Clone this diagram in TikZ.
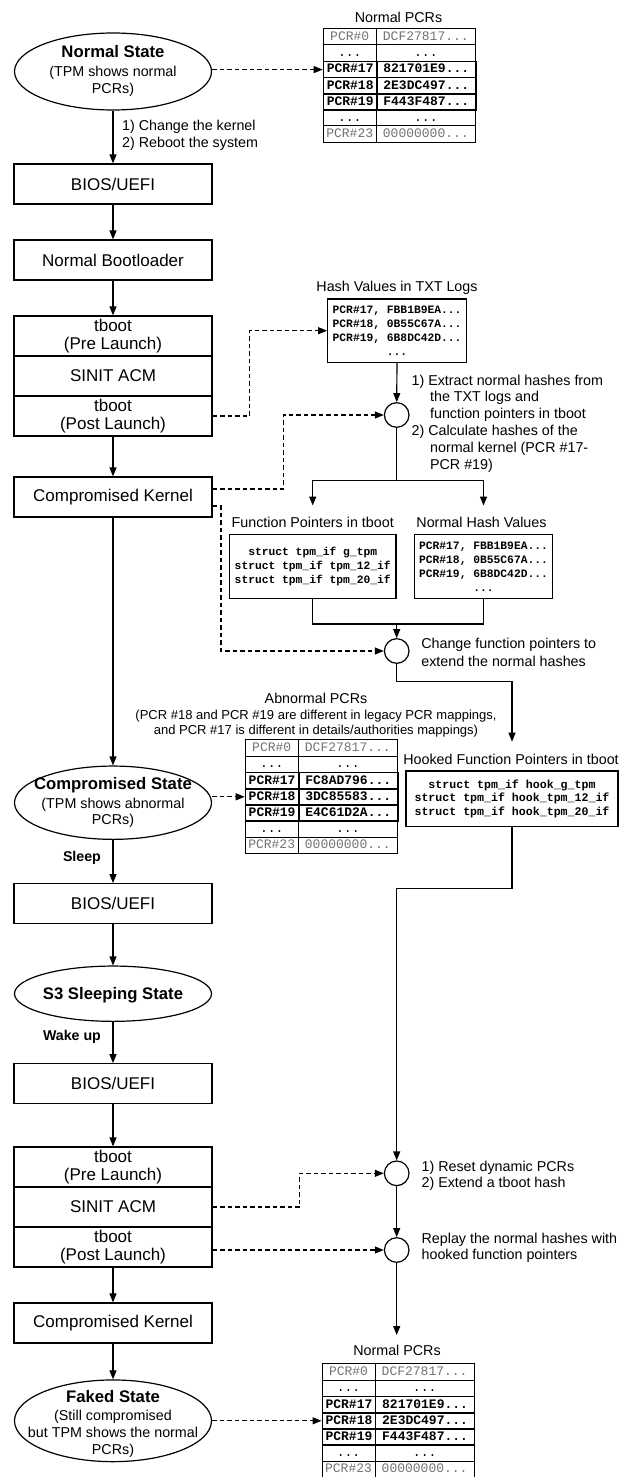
\documentclass[tikz,border=0pt]{standalone}
\usepackage{fontspec}
\setmainfont{Liberation Sans}
\setmonofont{Liberation Mono}
\usetikzlibrary{arrows.meta,shapes.geometric}
\definecolor{pcrgray}{gray}{0.45}

\tikzset{
  box/.style={draw, rectangle, minimum width=198pt, minimum height=40pt, inner sep=0pt,
    align=center, font=\fontsize{17}{18.8}\selectfont},
  oval/.style={draw, ellipse, minimum width=197pt, inner sep=0pt},
  ovaltext/.style={align=center, inner sep=0pt, font=\fontsize{14.3}{16.8}\selectfont},
  head/.style={inner sep=0pt, text height=10.3pt, text depth=0pt, font=\fontsize{14.3}{16.8}\selectfont},
  note/.style={anchor=west, align=left, inner sep=0pt, font=\fontsize{14.3}{16.9}\selectfont},
  edgelbl/.style={anchor=east, inner sep=0pt, text height=10.2pt, text depth=0pt,
    font=\fontsize{14.2}{16}\selectfont\bfseries},
  code/.style={draw, rectangle, inner sep=0pt, align=center, font=\ttfamily\bfseries\fontsize{11.3}{14}\selectfont},
  junc/.style={draw, circle, minimum size=24.6pt, inner sep=0pt},
  flow/.style={-{Triangle[length=9pt,width=7pt]}},
  dflow/.style={flow, dash pattern=on 4.5pt off 3pt},
  cell/.style={draw, rectangle, anchor=north west, inner sep=0pt, minimum height=16.2pt,
    text height=9.4pt, text depth=2.6pt, font=\ttfamily\fontsize{13}{13}\selectfont, line width=0.7pt},
  lcell/.style={cell, minimum width=53.3pt},
  rcell/.style={cell, minimum width=99pt},
  dim/.style={text=pcrgray},
  hot/.style={font=\ttfamily\bfseries\fontsize{13}{13}\selectfont, line width=1.6pt},
}

% bold first line of a state ellipse
\newcommand\statetitle[1]{{\fontsize{16.7}{20}\selectfont\bfseries #1}}

% seven-row PCR table; #1 name prefix, #2-#4 values of PCR#17..#19
\newcommand\pcrtable[4]{%
  \node[lcell,dim] (#1l0) at (0,0) {PCR\#0};
  \node[rcell,dim] (#1r0) at (53.3,0) {DCF27817...};
  \node[lcell] (#1l1) at (0,16.2) {...};
  \node[rcell] (#1r1) at (53.3,16.2) {...};
  \node[lcell] (#1l5) at (0,81) {...};
  \node[rcell] (#1r5) at (53.3,81) {...};
  \node[lcell,dim] (#1l6) at (0,97.2) {PCR\#23};
  \node[rcell,dim] (#1r6) at (53.3,97.2) {00000000...};
  \node[lcell,hot] (#1l2) at (0,32.4) {PCR\#17};
  \node[rcell,hot] (#1r2) at (53.3,32.4) {#2};
  \node[lcell,hot] (#1l3) at (0,48.6) {PCR\#18};
  \node[rcell,hot] (#1r3) at (53.3,48.6) {#3};
  \node[lcell,hot] (#1l4) at (0,64.8) {PCR\#19};
  \node[rcell,hot] (#1r4) at (53.3,64.8) {#4};
}

\begin{document}
\begin{tikzpicture}[x=1pt, y=-1pt, line width=1.2pt]
\fill[white] (0,0) rectangle (629,1477);
\useasboundingbox (0,0) rectangle (629,1477);

% ---------------- left column: boot sequence ----------------
\node[oval, minimum height=77pt] (ns) at (113,71.5) {};
\node[ovaltext] (nstx) at (113,71) {\statetitle{Normal State}\\[1.7pt](TPM shows normal\\PCRs)};
\node[box] (bios1) at (113,184) {BIOS/UEFI};
\node[box] (boot) at (113,260) {Normal Bootloader};
\node[box] (pre1) at (113,336) {tboot\\(Pre Launch)};
\node[box] (sin1) at (113,376) {SINIT ACM};
\node[box] (post1) at (113,416) {tboot\\(Post Launch)};
\node[box] (ck1) at (113,497) {Compromised Kernel};
\node[oval, minimum height=73.3pt] (cs) at (113,802.7) {};
\node[ovaltext] (cstx) at (113,802.6) {\statetitle{Compromised State}\\[1.7pt](TPM shows abnormal\\PCRs)};
\node[box] (bios2) at (113,903.7) {BIOS/UEFI};
\node[oval, minimum height=55.3pt] (s3) at (113,993.7) {};
\node[ovaltext] (s3tx) at (113,995.5) {\statetitle{S3 Sleeping State}};
\node[box] (bios3) at (113,1083.7) {BIOS/UEFI};
\node[box] (pre2) at (113,1167) {tboot\\(Pre Launch)};
\node[box] (sin2) at (113,1207) {SINIT ACM};
\node[box] (post2) at (113,1247) {tboot\\(Post Launch)};
\node[box] (ck2) at (113,1323) {Compromised Kernel};
\node[oval, minimum height=81.7pt] (fs) at (113,1420.8) {};
\node[ovaltext] (fstx) at (113,1423.5) {\statetitle{Faked State}\\[1.7pt](Still compromised\\but TPM shows the normal\\PCRs)};

\node[note, font=\fontsize{14.3}{17}\selectfont] (lbl1) at (121.5,135.7) {1) Change the kernel\\2) Reboot the system};
\node[edgelbl] (sleep) at (101.5,856.7) {Sleep};
\node[edgelbl] (wake) at (101.5,1035.7) {Wake up};

\draw[flow] (ns) -- (bios1);
\draw[flow] (bios1) -- (boot);
\draw[flow] (boot) -- (pre1);
\draw[flow] (post1) -- (ck1);
\draw[flow] (ck1) -- (cs);
\draw[flow] (cs) -- (bios2);
\draw[flow] (bios2) -- (s3);
\draw[flow] (s3) -- (bios3);
\draw[flow] (bios3) -- (pre2);
\draw[flow] (post2) -- (ck2);
\draw[flow] (ck2) -- (fs);

% ---------------- PCR tables ----------------
\node[head] (npt) at (398.5,17) {Normal PCRs};
\begin{scope}[shift={(322.7,28.3)}]
  \pcrtable{t1}{821701E9...}{2E3DC497...}{F443F487...}
\end{scope}

\node[align=center, inner sep=0pt, font=\fontsize{13}{15}\selectfont] (apt) at (316,715.3)
  {{\fontsize{14.3}{16}\selectfont Abnormal PCRs}\\[1.2pt](PCR \#18 and PCR \#19 are different in legacy PCR mappings,\\and PCR \#17 is different in details/authorities mappings)};
\begin{scope}[shift={(244.7,739.3)}]
  \pcrtable{t2}{FC8AD796...}{3DC85583...}{E4C61D2A...}
\end{scope}

\node[head] (npt2) at (397,1350.7) {Normal PCRs};
\begin{scope}[shift={(321.5,1363.3)}]
  \pcrtable{t3}{821701E9...}{2E3DC497...}{F443F487...}
\end{scope}

\draw[dflow] (ns.east |- t1l2.west) -- (t1l2.west);
\draw[dflow] (cs.east |- t2l3.west) -- (t2l3.west);
\draw[dflow] (fs.east |- t3l3.west) -- (t3l3.west);

% ---------------- extraction of the normal hashes ----------------
\node[head] (hvt) at (397,286.7) {Hash Values in TXT Logs};
\node[code, minimum width=138.8pt, minimum height=63.3pt] (hv) at (397.1,330.7)
  {PCR\#17, FBB1B9EA...\\PCR\#18, 0B55C67A...\\PCR\#19, 6B8DC42D...\\...};
\node[junc] (c1) at (396.7,415) {};
\node[note] (c1tx) at (411,423.6) {1) Extract normal hashes from\\\hspace*{18.5pt}the TXT logs and\\\hspace*{18.5pt}function pointers in tboot\\2) Calculate hashes of the\\\hspace*{18.5pt}normal kernel (PCR \#17-\\\hspace*{18.5pt}PCR \#19)};

\draw[dflow] (post1.east) -- ++(37,0) |- (hv.west);
\draw[dflow] ([yshift=8pt]ck1.east) -- ++(70.6,0) |- (c1.west);
\draw[flow] (hv) -- (c1);

\coordinate (split) at (396.7,480.5);
\coordinate (fpin) at (312.7,505.5);
\coordinate (nhin) at (483.5,505.5);
\draw (c1) -- (split);
\draw[flow] (split) -| (fpin);
\draw[flow] (split) -| (nhin);

\node[head] (fpt) at (312.7,522.3) {Function Pointers in tboot};
\node[code, minimum width=166.7pt, minimum height=64pt] (fp) at (312.7,566.3)
  {struct tpm\_if g\_tpm\\struct tpm\_if tpm\_12\_if\\struct tpm\_if tpm\_20\_if};
\node[head] (nht) at (481.5,522.3) {Normal Hash Values};
\node[code, minimum width=138.4pt, minimum height=64pt] (nh) at (483.5,566.3)
  {PCR\#17, FBB1B9EA...\\PCR\#18, 0B55C67A...\\PCR\#19, 6B8DC42D...\\...};

\coordinate (merge) at (396.7,624);
\node[junc] (c2) at (396.7,651) {};
\node[note, font=\fontsize{14.3}{18.3}\selectfont] (c2tx) at (420.7,652.7) {Change function pointers to\\extend the normal hashes};
\draw (fp.south) |- (merge);
\draw (nh.south) |- (merge);
\draw[flow] (merge) -- (c2);
\draw[dflow] ([yshift=-9pt]ck1.east) -- ++(8.3,0) |- (c2.west);

% ---------------- hooked function pointers ----------------
\coordinate (hkin) at (512,741.7);
\node[head] (hkt) at (511,759.3) {Hooked Function Pointers in tboot};
\node[code, minimum width=212pt, minimum height=55.7pt, font=\ttfamily\bfseries\fontsize{11.6}{13.7}\selectfont] (hk) at (512,798.8)
  {struct tpm\_if hook\_g\_tpm\\struct tpm\_if hook\_tpm\_12\_if\\struct tpm\_if hook\_tpm\_20\_if};
\draw[flow] (c2.south) -- ++(0,17.7) -| (hkin);

% ---------------- replay after wake up ----------------
\coordinate (bend) at (396.7,888.3);
\coordinate (npin) at (396.7,1335);
\node[junc] (c3) at (396.7,1173.3) {};
\node[note, font=\fontsize{14.3}{16}\selectfont] (c3tx) at (421,1175.9) {1) Reset dynamic PCRs\\2) Extend a tboot hash};
\node[junc] (c4) at (396.7,1250) {};
\node[note, font=\fontsize{14.3}{16}\selectfont] (c4tx) at (421,1247.5) {Replay the normal hashes with\\hooked function pointers};

\draw[flow] (hk.south) |- (bend) -- (c3);
\draw[flow] (c3) -- (c4);
\draw[flow] (c4) -- (npin);
\draw[dflow] (sin2.east) -- ++(87.1,0) |- (c3.west);
\draw[dflow] (post2.east |- c4.west) -- (c4.west);
\end{tikzpicture}
\end{document}
